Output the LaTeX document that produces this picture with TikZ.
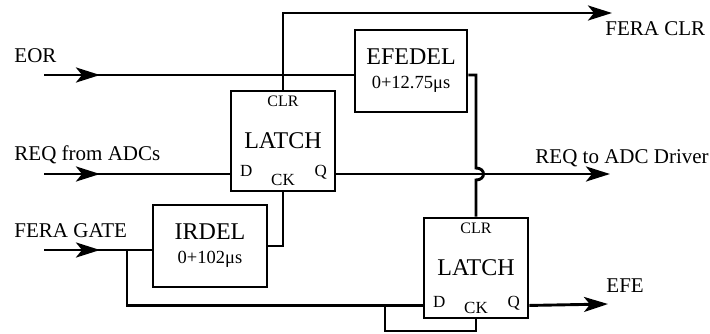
\documentclass[tikz,border=0pt]{standalone}
\usepackage{fontspec}
\setmainfont{Liberation Serif}
\usetikzlibrary{arrows.meta,decorations.markings}

\begin{document}
\begin{tikzpicture}[x=1pt,y=-1pt,line width=2.9pt,
    box/.style={draw,rectangle,inner sep=0pt,font=\fontsize{24}{24}\selectfont},
    latch/.style={box,minimum width=104pt,minimum height=100pt},
    delay/.style={box,minimum width=112pt,minimum height=82pt,align=center},
    lbl/.style={anchor=base west,inner sep=0pt,font=\fontsize{21}{24}\selectfont},
    pin/.style={anchor=base,inner sep=0pt,font=\fontsize{17}{18}\selectfont},
    clrpin/.style={pin,font=\fontsize{16}{17}\selectfont},
    outarrow/.style={-{Stealth[length=24pt,width=15pt,inset=6pt]}},
    inarrow/.style={postaction={decorate,decoration={markings,
        mark=at position 56pt with {\arrow{Stealth[length=24pt,width=15pt,inset=6pt]}}}}}]
    \useasboundingbox (0,0) rectangle (710,333);

    \node[latch] (latch1) at (283,141) {LATCH};
    \node[latch] (latch2) at (476,268) {LATCH};
    \node[delay] (efedel) at (411,71) {EFEDEL\\{\fontsize{18.5}{20}\selectfont 0+12.75μs}};
    \node[delay,minimum width=114pt] (irdel) at (210,246) {IRDEL\\{\fontsize{18.5}{20}\selectfont 0+102μs}};

    \node[clrpin] (clr1) at ([yshift=-17pt]latch1.north) {CLR};
    \node[pin,anchor=base west] (d1) at ([xshift=9pt,yshift=16pt]latch1.south west) {D};
    \node[pin] (ck1) at ([yshift=7pt]latch1.south) {CK};
    \node[pin,anchor=base east] (q1) at ([xshift=-8pt,yshift=16pt]latch1.south east) {Q};
    \node[clrpin] (clr2) at ([yshift=-17pt]latch2.north) {CLR};
    \node[pin,anchor=base west] (d2) at ([xshift=9pt,yshift=12pt]latch2.south west) {D};
    \node[pin] (ck2) at ([yshift=6pt]latch2.south) {CK};
    \node[pin,anchor=base east] (q2) at ([xshift=-8pt,yshift=12pt]latch2.south east) {Q};

    \node[lbl] (eor) at (13,62) {EOR};
    \node[lbl] (reqadc) at (13,160) {REQ from ADCs};
    \node[lbl] (gate) at (13,237) {FERA GATE};
    \node[lbl] (feraclr) at (604,35) {FERA CLR};
    \node[lbl] (driver) at (534,163) {REQ to ADC Driver};
    \node[lbl] (efe) at (605,292) {EFE};

    \coordinate (eorin) at (44,75);
    \coordinate (reqin) at (44,174);
    \coordinate (gatein) at (44,250);
    \coordinate (clrout) at (612,13);
    \coordinate (reqout) at (610,174);
    \coordinate (efeout) at (608,304);
    \coordinate (gsplit) at (127,250);
    \coordinate (cksplit) at (385,304);
    \coordinate (dtwo) at ([yshift=14pt]latch2.south west);
    \coordinate (hop) at (latch2.north |- reqin);

    \draw[inarrow] (eorin) -- (eorin -| efedel.west);
    \draw[outarrow] (latch1.north) |- (clrout);
    \draw[inarrow] (reqin) -- (reqin -| latch1.west);
    \draw[outarrow] (reqin -| latch1.east) -- (reqout);
    \draw (eorin -| efedel.east) -| ([yshift=6pt]hop) .. controls +(10,0) and +(10,0) .. ([yshift=-6pt]hop) -- (latch2.north);
    \draw[inarrow] (gatein) -- (gatein -| irdel.west);
    \draw (irdel.east) -| (latch1.south);
    \draw (gsplit) |- (dtwo);
    \draw (cksplit) -- ++(0,27) -| (latch2.south);
    \draw[outarrow] ([yshift=14pt]latch2.south east) -- (efeout);
\end{tikzpicture}
\end{document}
